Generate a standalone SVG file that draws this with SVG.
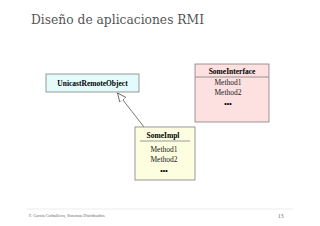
<svg xmlns="http://www.w3.org/2000/svg" width="320" height="226" viewBox="0 0 320 226">
<style>
.box{stroke:#808080;stroke-width:0.8}
.bold{font-family:"Liberation Serif",serif;font-weight:bold;font-size:7.5px;fill:#000;text-anchor:middle}
.m{font-family:"Liberation Serif",serif;font-size:7.5px;fill:#222;text-anchor:middle}
.dots{font-family:"Liberation Sans",sans-serif;font-weight:bold;font-size:7px;fill:#000;text-anchor:middle}
</style>
<defs>
<marker id="tri" markerWidth="10" markerHeight="10" refX="9" refY="4" orient="auto" markerUnits="userSpaceOnUse">
<path d="M0,0 L9,4 L0,8 Z" fill="#fff" stroke="#555" stroke-width="0.8"/>
</marker>
</defs>
<rect width="320" height="226" fill="#fff"/>
<text x="31" y="24" font-family="'DejaVu Serif','Liberation Serif',serif" font-size="13" fill="#555" textLength="173" lengthAdjust="spacingAndGlyphs">Diseño de aplicaciones RMI</text>
<g id="connectors">
<line x1="144" y1="127" x2="117.5" y2="93" stroke="#555" stroke-width="0.8" marker-end="url(#tri)"/>
<path d="M203,116 L207,111 L208,116" fill="none" stroke="#e6e6e6" stroke-width="0.8"/>
</g>
<g id="UnicastRemoteObject">
<rect class="box" x="46" y="74" width="93" height="18" fill="#e3fbfb"/>
<text class="bold" x="92.5" y="86">UnicastRemoteObject</text>
</g>
<g id="SomeInterface">
<rect class="box" x="195" y="64" width="74" height="58" fill="#fde0e0"/>
<line x1="195" y1="77" x2="269" y2="77" stroke="#808080" stroke-width="0.8"/>
<text class="bold" x="232" y="74">SomeInterface</text>
<text class="m" x="228" y="85">Method1</text>
<text class="m" x="228" y="95">Method2</text>
<text class="dots" x="228" y="106">•••</text>
</g>
<g id="SomeImpl">
<rect class="box" x="135" y="127" width="60" height="53" fill="#fdfde0"/>
<line x1="140" y1="141" x2="190" y2="141" stroke="#808080" stroke-width="0.8"/>
<text class="bold" x="163" y="138">SomeImpl</text>
<text class="m" x="164" y="152">Method1</text>
<text class="m" x="164" y="162">Method2</text>
<text class="dots" x="164" y="173">•••</text>
</g>
<line x1="27" y1="209" x2="293" y2="209" stroke="#e8e8e8" stroke-width="0.8"/>
<text x="29" y="217" font-family="'Liberation Serif',serif" font-size="4.3" fill="#666">F. García Carballeira, Sistemas Distribuidos</text>
<text x="278" y="218" font-family="'Liberation Serif',serif" font-size="5.5" fill="#666">13</text>
</svg>
